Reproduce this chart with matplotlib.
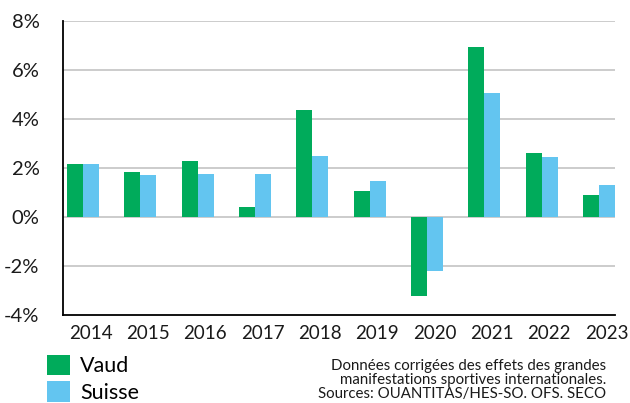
import numpy as np
import matplotlib.pyplot as plt

plt.rcParams['font.family'] = ['Lato', 'DejaVu Sans']

years = ["2014", "2015", "2016", "2017", "2018", "2019", "2020", "2021", "2022", "2023"]
vaud = [2.16, 1.84, 2.29, 0.42, 4.37, 1.06, -3.21, 6.94, 2.61, 0.90]
suisse = [2.16, 1.71, 1.76, 1.76, 2.49, 1.47, -2.20, 5.06, 2.45, 1.31]
yticks = [-4, -2, 0, 2, 4, 6, 8]

green = "#00ab5b"
blue = "#63c5f0"

fig = plt.figure(figsize=(6.3, 4.03), dpi=100)
ax = fig.add_axes([0.1, 0.2184, 0.8762, 0.7295])

x = np.arange(len(years))
w = 0.28
ax.bar(x - w / 2, vaud, w, color=green, label="Vaud", zorder=3)
ax.bar(x + w / 2, suisse, w, color=blue, label="Suisse", zorder=3)

ax.set_ylim(-4, 8)
ax.set_xlim(-0.35, 9.28)
ax.set_yticks(yticks)
ax.set_yticklabels([f"{t}%" for t in yticks], fontsize=14.5, color="#1a1a1a")
ax.set_xticks(x + 0.13)
ax.set_xticklabels(years, fontsize=13.5, color="#1a1a1a")
ax.tick_params(length=0)
ax.tick_params(axis="y", pad=17)
ax.tick_params(axis="x", pad=7)

for t in [-2, 0, 2, 4, 6, 8]:
    ax.axhline(t, color="#c4c4c4", lw=1.2, zorder=1)

for s in ["top", "right"]:
    ax.spines[s].set_visible(False)
ax.spines["left"].set_linewidth(1.3)
ax.spines["bottom"].set_linewidth(1.3)

fig.legend(loc="upper left", bbox_to_anchor=(0.074, 0.12), frameon=False,
           fontsize=15.5, handlelength=1.1, handleheight=1.1,
           handletextpad=0.45, labelspacing=0.22, borderaxespad=0, borderpad=0)

fig.text(0.962, 0.004,
         "Données corrigées des effets des grandes\nmanifestations sportives internationales.\nSources: OUANTITAS/HES-SO. OFS. SECO",
         ha="right", va="bottom", fontsize=10.8, color="#1a1a1a", linespacing=1.0)

fig.savefig("out.png", dpi=100)
